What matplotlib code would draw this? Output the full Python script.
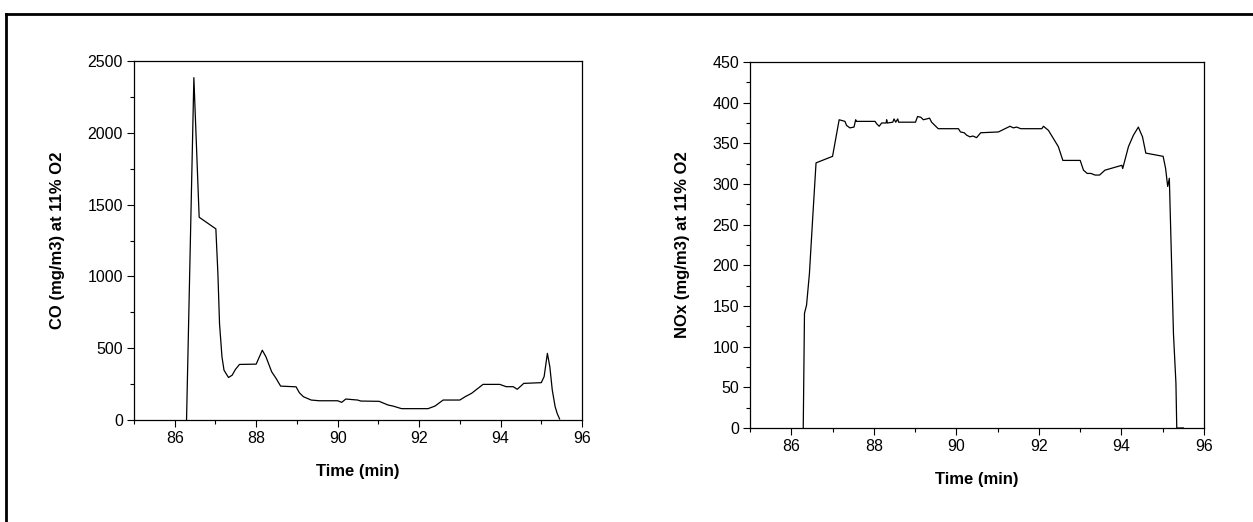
import numpy as np
import matplotlib.pyplot as plt
from matplotlib.lines import Line2D
from matplotlib.ticker import MultipleLocator

plt.rcParams['font.family'] = ['Liberation Sans', 'DejaVu Sans']

# CO trace
co_t = [86.29, 86.47, 86.60, 87.01, 87.06, 87.10, 87.16, 87.21, 87.32, 87.41,
        87.49, 87.59, 88.00, 88.15, 88.24, 88.38, 88.49, 88.60, 88.98, 89.06,
        89.16, 89.35, 89.55, 90.00, 90.10, 90.20, 90.49, 90.57, 91.02, 91.24,
        91.36, 91.57, 92.22, 92.39, 92.59, 93.00, 93.13, 93.29, 93.57, 93.98,
        94.14, 94.31, 94.41, 94.57, 95.00, 95.07, 95.15, 95.21, 95.27, 95.34,
        95.39, 95.45]
co_v = [0, 2384, 1412, 1331, 1019, 671, 440, 347, 296, 312,
        352, 387, 389, 486, 440, 336, 289, 236, 231, 190,
        162, 139, 134, 134, 123, 146, 139, 132, 130, 104,
        97, 79, 79, 97, 139, 139, 162, 186, 248, 248,
        232, 232, 214, 255, 260, 302, 464, 371, 209, 93,
        46, 7]

# NOx trace
nox_t = [86.29, 86.32, 86.37, 86.44, 86.52, 86.60, 87.00, 87.16, 87.30, 87.34,
         87.42, 87.52, 87.56, 87.58, 88.03, 88.07, 88.13, 88.19, 88.30, 88.31,
         88.33, 88.46, 88.49, 88.53, 88.58, 88.60, 89.01, 89.06, 89.14, 89.20,
         89.28, 89.35, 89.40, 89.48, 89.56, 90.05, 90.10, 90.19, 90.25, 90.33,
         90.40, 90.49, 90.59, 91.02, 91.10, 91.22, 91.30, 91.38, 91.46, 91.56,
         92.07, 92.11, 92.23, 92.35, 92.47, 92.58, 93.00, 93.08, 93.17, 93.26,
         93.36, 93.47, 93.60, 94.01, 94.03, 94.17, 94.29, 94.41, 94.45, 94.51,
         94.59, 95.01, 95.07, 95.12, 95.16, 95.26, 95.32, 95.34, 95.50]
nox_v = [0, 141, 151, 190, 259, 326, 334, 379, 377, 372,
         369, 370, 379, 377, 377, 374, 371, 375, 375, 379,
         375, 376, 380, 376, 380, 376, 376, 383, 382, 379,
         380, 381, 376, 372, 368, 368, 364, 363, 360, 358,
         359, 357, 363, 364, 366, 369, 371, 369, 370, 368,
         368, 371, 366, 356, 346, 329, 329, 317, 313, 313,
         311, 311, 317, 323, 319, 346, 360, 370, 365, 358,
         338, 334, 319, 297, 307, 116, 55, 0, 0]

W, H = 1253, 522
fig = plt.figure(figsize=(W / 100, H / 100), dpi=100)


def make_axes(box, y, t, ymax, major, minor, ylabel):
    left, top, right, bottom = box
    ax = fig.add_axes([left / W, 1 - bottom / H, (right - left) / W, (bottom - top) / H])
    ax.plot(t, y, color='black', lw=0.9)
    ax.set_xlim(85, 96)
    ax.set_ylim(0, ymax)
    ax.xaxis.set_major_locator(MultipleLocator(2))
    ax.xaxis.set_minor_locator(MultipleLocator(1))
    ax.yaxis.set_major_locator(MultipleLocator(major))
    ax.yaxis.set_minor_locator(MultipleLocator(minor))
    ax.tick_params(which='major', direction='out', length=5, width=0.8, labelsize=11.5, pad=3)
    ax.tick_params(which='minor', direction='out', length=3, width=0.8)
    ax.set_xticks([86, 88, 90, 92, 94, 96])
    for s in ax.spines.values():
        s.set_linewidth(0.9)
    ax.set_xlabel('Time (min)', fontsize=12, fontweight='bold', labelpad=13)
    ax.set_ylabel(ylabel, fontsize=12, fontweight='bold', labelpad=16)
    return ax


make_axes((134, 61, 582, 420), co_v, co_t, 2500, 500, 250, 'CO (mg/m3) at 11% O2')
make_axes((750, 62, 1204, 428), nox_v, nox_t, 450, 50, 25, 'NOx (mg/m3) at 11% O2')

# outer frame: top and left edges only
fig.add_artist(Line2D([6 / W, 1], [1 - 14 / H, 1 - 14 / H], color='black', lw=2))
fig.add_artist(Line2D([6 / W, 6 / W], [0, 1 - 14 / H], color='black', lw=2))

fig.savefig('out.png', dpi=100)
